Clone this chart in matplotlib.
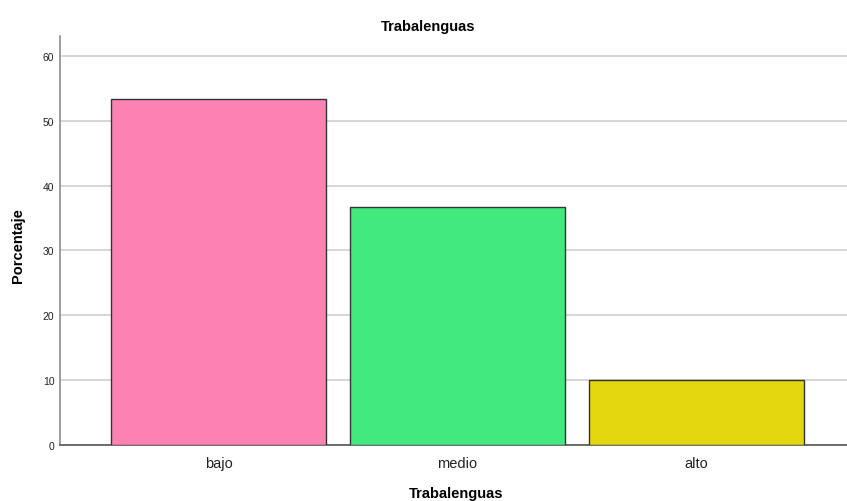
import matplotlib
matplotlib.use("Agg")
import matplotlib.pyplot as plt

categories = ["bajo", "medio", "alto"]
values = [53.3, 36.7, 10.0]
colors = ["#FD82B4", "#41E97E", "#E3D80F"]
yticks = [0, 10, 20, 30, 40, 50, 60]

plt.rcParams['font.family'] = ['Liberation Sans', 'DejaVu Sans']

W, H = 847, 502
fig = plt.figure(figsize=(W/100, H/100), dpi=100)
left, right = 60/W, 847/W
bottom, top = 1 - 445.7/H, 1 - 37/H
ax = fig.add_axes([left, bottom, right-left, top-bottom])

x = range(len(categories))
ax.bar(x, values, width=0.9, color=colors, edgecolor="#333333", linewidth=1.0, zorder=3)

ax.set_xlim(-0.663, 2.63)
ax.set_ylim(0, 63.1)
ax.set_yticks(yticks)
ax.set_xticks(list(x))
ax.set_xticklabels(categories, fontsize=10.5, color="#222222")
ax.tick_params(axis='y', labelsize=7.5, length=0, pad=4, colors="#222222")
ax.tick_params(axis='x', length=0, pad=8)
ax.yaxis.grid(True, color="#D0D0D0", linewidth=1.2, zorder=0)
ax.set_axisbelow(True)

for s in ["top", "right"]:
    ax.spines[s].set_visible(False)
ax.spines["left"].set_color("#8C8C8C")
ax.spines["left"].set_linewidth(1.2)
ax.spines["bottom"].set_color("#555555")
ax.spines["bottom"].set_linewidth(1.2)

fig.text(428/W, 1 - 27/H, "Trabalenguas", ha="center", va="center", fontsize=10.5, fontweight="bold")
fig.text(456/W, 1 - 494/H, "Trabalenguas", ha="center", va="center", fontsize=10.5, fontweight="bold")
fig.text(18/W, 1 - 246/H, "Porcentaje", ha="center", va="center", rotation=90, fontsize=10.5, fontweight="bold")

fig.savefig("out.png", dpi=100)
